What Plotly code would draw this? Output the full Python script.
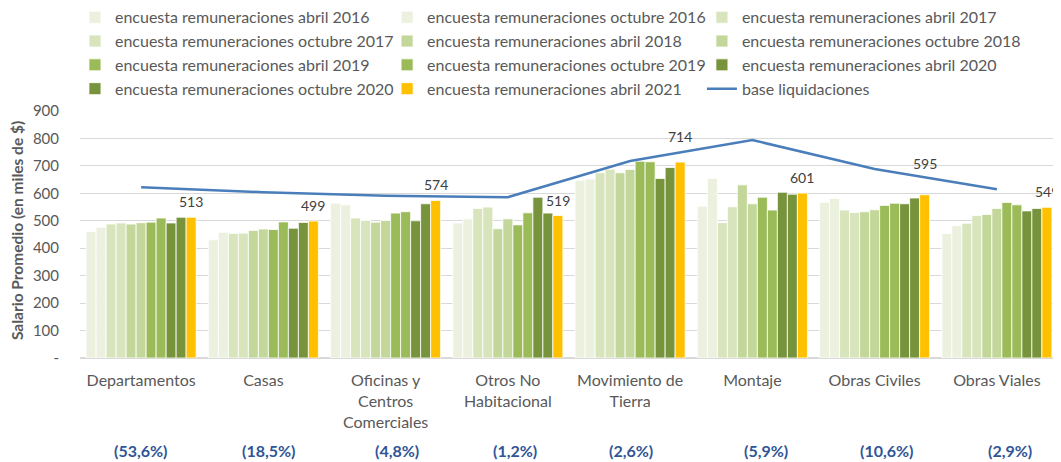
import plotly.graph_objects as go

categories = ["Departamentos", "Casas", "Oficinas y<br>Centros<br>Comerciales", "Otros No<br>Habitacional",
              "Movimiento de<br>Tierra", "Montaje", "Obras Civiles", "Obras Viales"]
shares = ["(53,6%)", "(18,5%)", "(4,8%)", "(1,2%)", "(2,6%)", "(5,9%)", "(10,6%)", "(2,9%)"]

series_names = [
    "encuesta remuneraciones abril 2016", "encuesta remuneraciones octubre 2016",
    "encuesta remuneraciones abril 2017", "encuesta remuneraciones octubre 2017",
    "encuesta remuneraciones abril 2018", "encuesta remuneraciones octubre 2018",
    "encuesta remuneraciones abril 2019", "encuesta remuneraciones octubre 2019",
    "encuesta remuneraciones abril 2020", "encuesta remuneraciones octubre 2020",
    "encuesta remuneraciones abril 2021",
]
abr2016 = [461, 431, 564, 492, 648, 553, 567, 454]
oct2016 = [476, 458, 558, 507, 652, 654, 581, 482]
abr2017 = [488, 454, 510, 545, 675, 493, 539, 491]
oct2017 = [492, 455, 501, 550, 688, 551, 530, 519]
abr2018 = [488, 465, 495, 471, 675, 631, 533, 523]
oct2018 = [493, 470, 501, 507, 687, 562, 540, 545]
abr2019 = [495, 468, 528, 485, 717, 586, 556, 567]
oct2019 = [510, 496, 533, 529, 715, 539, 564, 558]
abr2020 = [492, 473, 500, 586, 654, 604, 562, 536]
oct2020 = [513, 494, 562, 528, 694, 597, 583, 545]
abr2021 = [513, 499, 574, 519, 714, 601, 595, 549]
base_liquidaciones = [622, 604, 591, 586, 718, 794, 689, 615]

series_values = [abr2016, oct2016, abr2017, oct2017, abr2018, oct2018,
                 abr2019, oct2019, abr2020, oct2020, abr2021]
colors = ["#EBF1DE", "#EBF1DE", "#D8E4BC", "#D8E4BC", "#C4D79B", "#C4D79B",
          "#9BBB59", "#9BBB59", "#77933C", "#77933C", "#FFC000"]

FONT = "Lato"
GREY = "#595959"
legend_ids = ["legend", "legend2", "legend3"]

x_idx = list(range(len(categories)))
fig = go.Figure()
for k, (name, vals, col) in enumerate(zip(series_names, series_values, colors)):
    fig.add_trace(go.Bar(x=x_idx, y=vals, name=name, legend=legend_ids[k % 3],
                         marker=dict(color=col, line=dict(color="#FFFFFF", width=0.8))))
fig.add_trace(go.Scatter(x=x_idx, y=base_liquidaciones, name="base liquidaciones", mode="lines",
                         legend=legend_ids[11 % 3], line=dict(color="#4A7EBB", width=2.5)))

bargap = 0.1
n = len(series_names)
last_offset = (1 - bargap) / 2 - (1 - bargap) / n / 2
label_shift = [5, 5, 5, 5, 15, 5, 21, 5]
annotations = []
for i, v in enumerate(abr2021):
    annotations.append(dict(x=i + last_offset, y=v, xref="x", yref="y", text=str(v), showarrow=False,
                            yanchor="bottom", yshift=label_shift[i],
                            font=dict(family=FONT, size=14, color="#404040")))
share_shift = [-1, 5, 11, 7, 1, 14, 12, 13]
for i, s in enumerate(shares):
    annotations.append(dict(x=i, y=-0.3765, xref="x", yref="paper", text="<b>" + s + "</b>", showarrow=False,
                            xshift=share_shift[i], yanchor="middle",
                            font=dict(family=FONT, size=16, color="#2F5597")))
annotations.append(dict(x=-0.0644, y=0.514, xref="paper", yref="paper",
                        text="<b>Salario Promedio (en miles de $)</b>", textangle=-90, showarrow=False,
                        xanchor="center", yanchor="middle",
                        font=dict(family=FONT, size=15.5, color=GREY)))

leg_common = dict(orientation="v", xref="container", yref="paper", y=1.448, xanchor="left", yanchor="top",
                  itemwidth=30, tracegroupgap=0, traceorder="normal", bgcolor="rgba(0,0,0,0)",
                  font=dict(family=FONT, size=16, color=GREY))
fig.update_layout(
    width=1053, height=454,
    margin=dict(l=72, r=3, t=103, b=104, autoexpand=False),
    plot_bgcolor="white", paper_bgcolor="white",
    barmode="group", bargap=bargap, bargroupgap=0,
    font=dict(family=FONT, size=16, color=GREY),
    legend=dict(x=0.0636, **leg_common),
    legend2=dict(x=0.360, **leg_common),
    legend3=dict(x=0.659, **leg_common),
    annotations=annotations,
    showlegend=True,
)
fig.update_xaxes(tickmode="array", tickvals=x_idx, ticktext=categories, range=[-0.5, len(categories) - 0.5],
                 showgrid=False, showline=False, zeroline=False, ticks="", automargin=False,
                 ticklabelstandoff=11, tickfont=dict(family=FONT, size=16, color=GREY))
fig.update_yaxes(range=[0, 900], tickmode="array", tickvals=list(range(0, 901, 100)),
                 ticktext=["-"] + [str(v) for v in range(100, 901, 100)],
                 showgrid=True, gridcolor="#D9D9D9", gridwidth=1, zeroline=True, zerolinecolor="#D9D9D9",
                 ticks="", ticklabelstandoff=20, automargin=False,
                 tickfont=dict(family=FONT, size=15, color=GREY))
fig.write_html("out.html")
